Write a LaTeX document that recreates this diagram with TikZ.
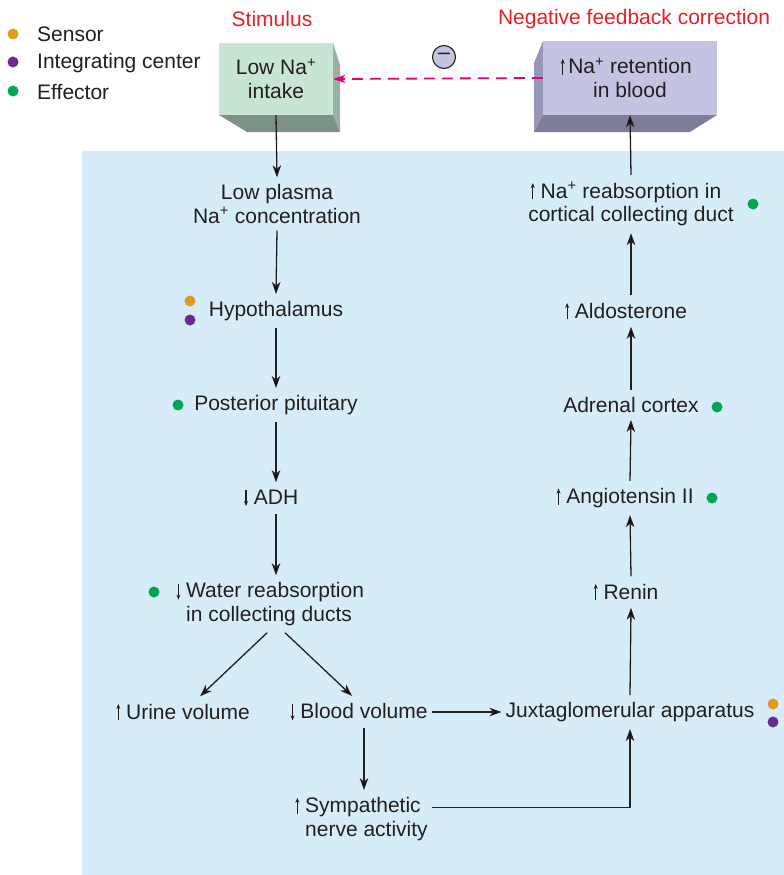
\documentclass[tikz,border=0pt]{standalone}
\usepackage{fontspec}
\setmainfont{Liberation Sans}
\usetikzlibrary{arrows.meta,calc}
\definecolor{dark}{RGB}{35,31,32}
\definecolor{bgblue}{RGB}{214,236,249}
\definecolor{redtxt}{RGB}{237,28,36}
\definecolor{magline}{RGB}{229,0,125}
\definecolor{gA}{RGB}{200,228,210}
\definecolor{gB}{RGB}{155,176,160}
\definecolor{gC}{RGB}{124,146,132}
\definecolor{pA}{RGB}{197,195,226}
\definecolor{pB}{RGB}{152,150,184}
\definecolor{pC}{RGB}{126,124,152}
\definecolor{sensorc}{RGB}{224,154,30}
\definecolor{integc}{RGB}{106,44,142}
\definecolor{effc}{RGB}{0,166,81}
\newcommand{\upar}{\tikz[x=1pt,y=1pt,baseline=0pt]\draw[draw=dark,line width=1.1pt,-{Stealth[length=5pt,width=4pt]}] (0,-1)--(0,15);}
\newcommand{\dnar}{\tikz[x=1pt,y=1pt,baseline=0pt]\draw[draw=dark,line width=1.1pt,-{Stealth[length=5pt,width=4pt]}] (0,14)--(0,-2);}
\begin{document}
\begin{tikzpicture}[x=1pt,y=-1pt,
  txt/.style={font=\fontsize{21}{23.5}\selectfont, text=dark, inner xsep=4pt, inner ysep=7pt, align=center},
  lbl/.style={font=\fontsize{21}{23.5}\selectfont, inner sep=0pt},
  boxn/.style={font=\fontsize{21}{24}\selectfont, text=dark, inner sep=0pt, align=center},
  arr/.style={draw=dark, line width=1.3pt, -{Stealth[length=12pt,width=8.5pt,inset=3.5pt]}},
  dot/.style={circle, inner sep=0pt, minimum size=11pt}]
\useasboundingbox (0,0) rectangle (784,875);
% background panel
\fill[bgblue] (82,151) rectangle (784,875);
% legend
\node[dot, fill=sensorc] (lgS) at (13,34) {};
\node[dot, fill=integc] (lgI) at (13,62) {};
\node[dot, fill=effc] (lgE) at (13,91) {};
\node[lbl, text=dark, anchor=west] (lgSt) at (37,34) {Sensor};
\node[lbl, text=dark, anchor=west] (lgIt) at (37,63) {Integrating center};
\node[lbl, text=dark, anchor=west] (lgEt) at (37,92) {Effector};
% headings
\node[lbl, text=redtxt] (stim) at (272,19) {Stimulus};
\node[lbl, text=redtxt] (negfb) at (634,19) {Negative feedback correction};
% stimulus box
\fill[gB] (333,43) -- (340,65) -- (340,132) -- (333,115) -- cycle;
\fill[gC] (219,115) -- (333,115) -- (340,132) -- (247,132) -- cycle;
\node[boxn, fill=gA, minimum width=114pt, minimum height=72pt] (b1) at (276,79) {Low Na\textsuperscript{+}\\intake};
% correction box
\fill[pB] (543,41) -- (534,63) -- (534,132) -- (543,115) -- cycle;
\fill[pC] (543,115) -- (717,115) -- (690,132) -- (534,132) -- cycle;
\node[boxn, fill=pA, minimum width=174pt, minimum height=74pt] (b2) at (630,78) {\llap{\upar\,}Na\textsuperscript{+} retention\\in blood};
% minus sign
\node[circle, draw=dark, line width=1.1pt, fill=pA, minimum size=23pt, inner sep=0pt, font=\fontsize{22}{22}\selectfont, text=dark] (minus) at (444,57) {\raisebox{1pt}{\textendash}};
% left column
\node[txt] (lp) at (277,204) {Low plasma\\Na\textsuperscript{+} concentration};
\node[txt] (hyp) at (276,311) {Hypothalamus};
\node[txt] (pp) at (276,405) {Posterior pituitary};
\node[txt] (adh) at (276,498) {\llap{\dnar\ }ADH};
\node[txt, anchor=west, align=left] (wr) at (182,604) {\llap{\dnar\ }Water reabsorption\\in collecting ducts};
\node[txt] (uv) at (188,712) {\llap{\upar\ }Urine volume};
\node[txt] (bv) at (364,712) {\llap{\dnar\ }Blood volume};
\node[txt, anchor=west, align=left] (sym) at (301,819) {\llap{\upar\ }Sympathetic\\nerve activity};
% right column
\node[txt] (jga) at (630,712) {Juxtaglomerular apparatus};
\node[txt] (ren) at (631,592) {\llap{\upar\ }Renin};
\node[txt] (ang) at (630,498) {\llap{\upar\ }Angiotensin II};
\node[txt] (adr) at (631,405) {Adrenal cortex};
\node[txt] (ald) at (631,311) {\llap{\upar\ }Aldosterone};
\node[txt] (nar) at (631,204) {\llap{\upar\ }Na\textsuperscript{+} reabsorption in\\cortical collecting duct};
% marker dots
\node[dot, fill=sensorc] (hypS) at (190,301) {};
\node[dot, fill=integc] (hypI) at (190,320) {};
\node[dot, fill=effc] (ppE) at (178,405) {};
\node[dot, fill=effc] (wrE) at (154,592) {};
\node[dot, fill=sensorc] (jgaS) at (773,704) {};
\node[dot, fill=integc] (jgaI) at (773,722) {};
\node[dot, fill=effc] (angE) at (712,498) {};
\node[dot, fill=effc] (adrE) at (717,407) {};
\node[dot, fill=effc] (narE) at (753,204) {};
% connectors
\draw[arr] (b1.south) -- (lp.north);
\draw[arr] (lp.south) -- (hyp.north);
\draw[arr] (hyp.south) -- (pp.north);
\draw[arr] (pp.south) -- (adh.north);
\draw[arr] (adh.south) -- (adh.south |- wr.north);
\draw[arr] ([xshift=-8pt]wr.south) -- ([xshift=12pt]uv.north);
\draw[arr] ([xshift=10pt]wr.south) -- ([xshift=-12pt]bv.north);
\draw[arr] (bv.east) -- (jga.west);
\draw[arr] (bv.south) -- (bv.south |- sym.north);
\draw[arr] ([yshift=11.5pt]sym.east) -| (jga.south);
\draw[arr] (jga.north) -- (ren.south);
\draw[arr] (ren.north) -- (ang.south);
\draw[arr] (ang.north) -- (adr.south);
\draw[arr] (adr.north) -- (ald.south);
\draw[arr] (ald.north) -- (nar.south);
\draw[arr] (nar.north) -- (b2.south);
\draw[draw=magline, line width=1.8pt, dash pattern=on 11pt off 7pt, -{Stealth[length=12pt,width=8pt,inset=3pt]}] (b2.west) -- (b1.east);
\end{tikzpicture}
\end{document}
